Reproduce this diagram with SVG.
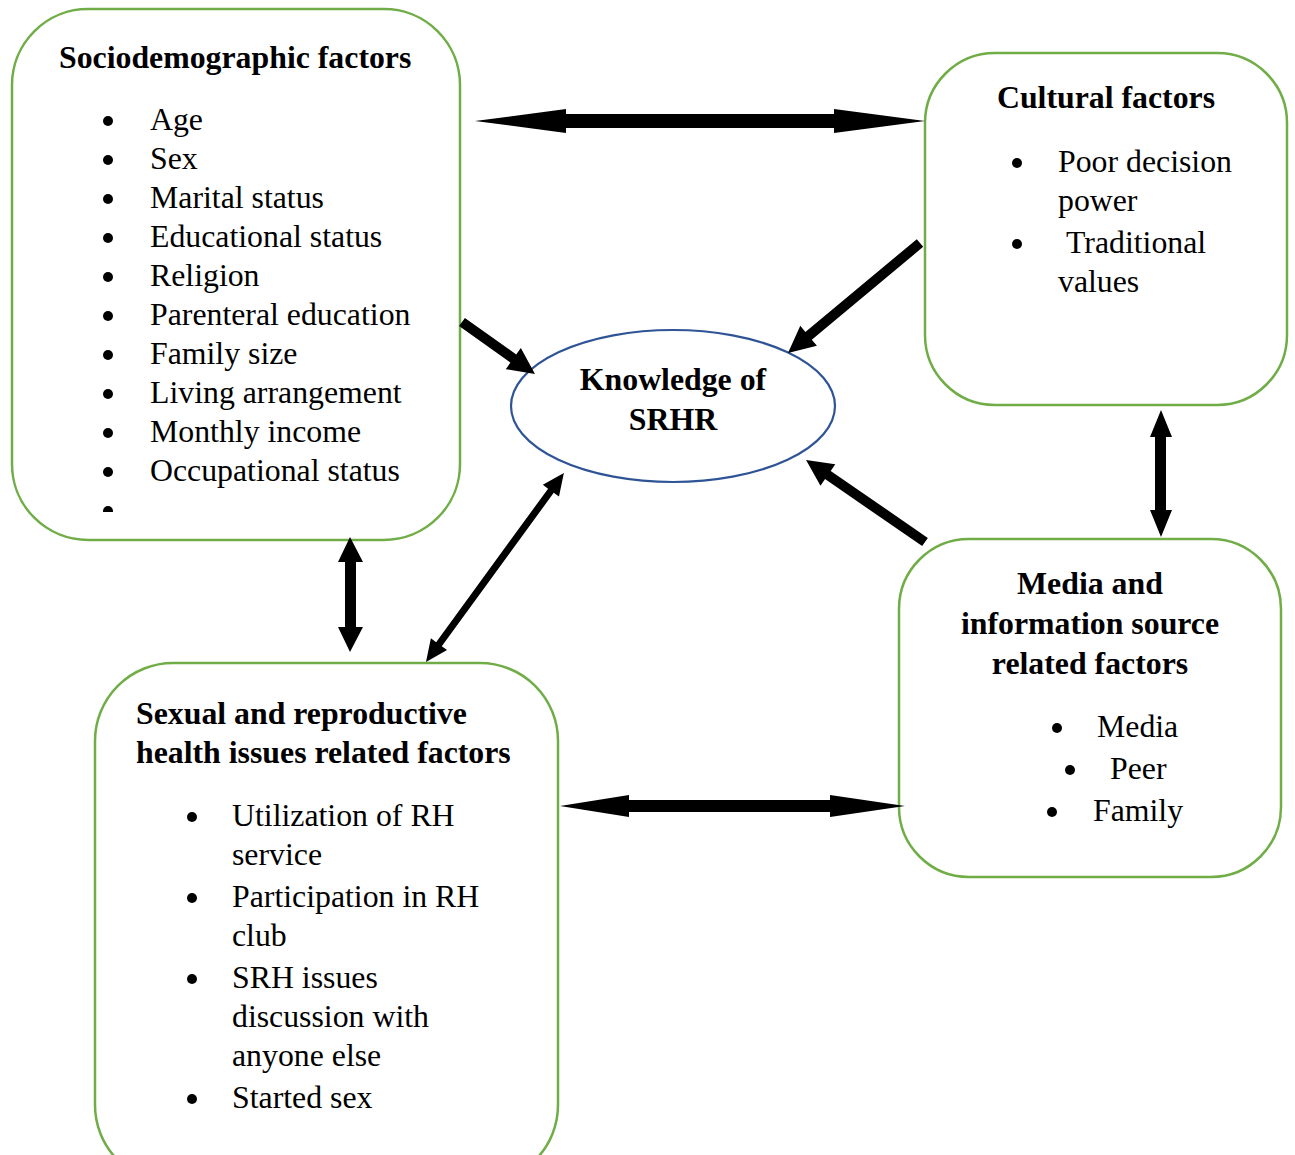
<svg xmlns="http://www.w3.org/2000/svg" width="1295" height="1155" viewBox="0 0 1295 1155">
<style>
.box{fill:#fff;stroke:#70AD47;stroke-width:2.5}
.ell{fill:#fff;stroke:#2F5496;stroke-width:2.2}
.t{font-family:"Liberation Serif","Times New Roman",serif;font-size:31.8px;fill:#000}
.b{font-weight:bold}
.c{text-anchor:middle}
.arr{fill:#000}
.dot{fill:#000}
</style>
<defs>
<clipPath id="clipSocio"><rect x="12" y="9" width="448" height="503"/></clipPath>
</defs>
<rect width="1295" height="1155" fill="#fff"/>

<g id="socio">
<rect class="box" x="12" y="9" width="448" height="531" rx="76" ry="76"/>
<text class="t b" x="59" y="68">Sociodemographic factors</text>
<g class="dot">
<circle cx="108" cy="121" r="5"/><circle cx="108" cy="160" r="5"/><circle cx="108" cy="199" r="5"/><circle cx="108" cy="238" r="5"/><circle cx="108" cy="277" r="5"/><circle cx="108" cy="316" r="5"/><circle cx="108" cy="355" r="5"/><circle cx="108" cy="394" r="5"/><circle cx="108" cy="433" r="5"/><circle cx="108" cy="472" r="5"/>
<circle cx="108" cy="511" r="5" clip-path="url(#clipSocio)"/>
</g>
<text class="t" x="150" y="130">Age</text>
<text class="t" x="150" y="169">Sex</text>
<text class="t" x="150" y="208">Marital status</text>
<text class="t" x="150" y="247">Educational status</text>
<text class="t" x="150" y="286">Religion</text>
<text class="t" x="150" y="325">Parenteral education</text>
<text class="t" x="150" y="364">Family size</text>
<text class="t" x="150" y="403">Living arrangement</text>
<text class="t" x="150" y="442">Monthly income</text>
<text class="t" x="150" y="481">Occupational status</text>
</g>

<g id="cultural">
<rect class="box" x="925" y="53" width="362" height="352" rx="70" ry="70"/>
<text class="t b c" x="1106" y="108">Cultural factors</text>
<circle class="dot" cx="1017" cy="163" r="5"/>
<circle class="dot" cx="1017" cy="244" r="5"/>
<text class="t" x="1058" y="172">Poor decision</text>
<text class="t" x="1058" y="211">power</text>
<text class="t" x="1066" y="253">Traditional</text>
<text class="t" x="1058" y="292">values</text>
</g>

<g id="media">
<rect class="box" x="899" y="539" width="382" height="338" rx="70" ry="70"/>
<text class="t b c" x="1090" y="594">Media and</text>
<text class="t b c" x="1090" y="634">information source</text>
<text class="t b c" x="1090" y="674">related factors</text>
<circle class="dot" cx="1057" cy="728" r="5"/>
<circle class="dot" cx="1070" cy="770" r="5"/>
<circle class="dot" cx="1052" cy="812" r="5"/>
<text class="t" x="1097" y="737">Media</text>
<text class="t" x="1110" y="779">Peer</text>
<text class="t" x="1093" y="821">Family</text>
</g>

<g id="srh">
<rect class="box" x="95" y="663" width="463" height="520" rx="78" ry="78"/>
<text class="t b" x="136" y="724">Sexual and reproductive</text>
<text class="t b" x="136" y="763">health issues related factors</text>
<circle class="dot" cx="192" cy="817" r="5"/>
<circle class="dot" cx="192" cy="898" r="5"/>
<circle class="dot" cx="192" cy="979" r="5"/>
<circle class="dot" cx="192" cy="1099" r="5"/>
<text class="t" x="232" y="826">Utilization of RH</text>
<text class="t" x="232" y="865">service</text>
<text class="t" x="232" y="907">Participation in RH</text>
<text class="t" x="232" y="946">club</text>
<text class="t" x="232" y="988">SRH issues</text>
<text class="t" x="232" y="1027">discussion with</text>
<text class="t" x="232" y="1066">anyone else</text>
<text class="t" x="232" y="1108">Started sex</text>
</g>

<g id="knowledge">
<ellipse class="ell" cx="673" cy="406" rx="162" ry="76"/>
<text class="t b c" x="673" y="390">Knowledge of</text>
<text class="t b c" x="673" y="430">SRHR</text>
</g>

<g id="connectors" class="arr">
<polygon points="475,121 566,109 566,114 834,114 834,109 925,121 834,133 834,128 566,128 566,133"/>
<polygon points="560,806 629,795 629,800 830,800 830,795 905,806 830,817 830,812 629,812 629,817"/>
<polygon points="350,537 363,562 356,562 356,627 363,627 350,652 338,627 345,627 345,562 338,562"/>
<polygon points="1161,410 1172,437 1166,437 1166,510 1172,510 1161,537 1150,510 1155,510 1155,437 1150,437"/>
<polygon transform="translate(426,662) rotate(-53.9)" points="0,0 22,-10 22,-3.5 212,-3.5 212,-10 234,0 212,10 212,3.5 22,3.5 22,10"/>
<polygon transform="translate(462,322) rotate(35.46)" points="0,-5 63,-5 63,-13 89.6,0 63,13 63,5 0,5"/>
<polygon transform="translate(920,243) rotate(140.2)" points="0,-5 145,-5 145,-13 171.8,0 145,13 145,5 0,5"/>
<polygon transform="translate(925,542) rotate(-145.4)" points="0,-5 118,-5 118,-13 144.5,0 118,13 118,5 0,5"/>
</g>
</svg>
